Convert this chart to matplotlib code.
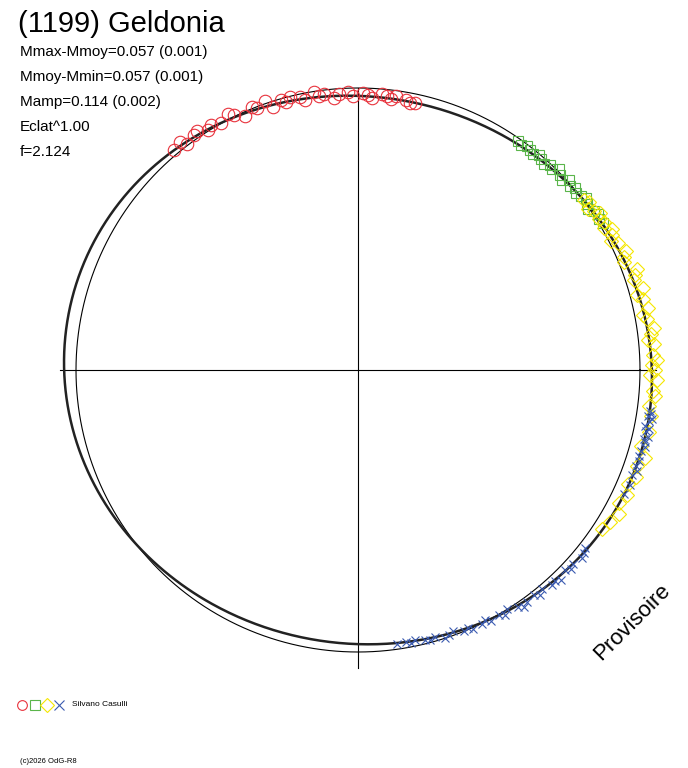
import numpy as np
import matplotlib.pyplot as plt

# phase angles (deg, image frame) and radial scatter (px) for each session
red_ang = [130, 128, 127, 125, 124, 122, 121, 119, 117, 116, 114, 112, 111, 109, 108, 106,
           105, 104, 102, 101, 99, 98, 97, 95, 94, 92, 91, 89, 88, 87, 85, 84, 83, 82, 80, 79, 78]
red_dr = [0, 3, -2, 2, 4, -1, 3, 0, 5, 2, -3, 4, 1, 6, -2, 3, 0, 4, 2, -1, 5, 1, 3, -2, 2,
          4, 0, 3, 1, -1, 4, 2, 0, 3, 1, -1, 0]
grn_ang = [55, 54, 53, 52, 51, 50, 49, 48, 47, 46, 45, 44, 43, 42, 41, 40, 39, 38, 37, 36,
           35, 34, 33, 32, 31]
grn_dr = [3, 1, 4, 2, 0, 3, 1, -1, 2, 0, 4, 1, -2, 3, 0, 2, -1, 1, 3, 0, -2, 1, 2, 0, 1]
yel_ang = [37, 36, 35, 34, 33, 32, 31, 30, 29, 28, 27, 26, 24, 23, 22, 20, 19, 18, 16, 15, 14,
           12, 11, 10, 8, 7, 6, 5, 3, 2, 1, 0, -1, -2, -4, -5, -7, -9, -12, -15, -17, -19,
           -21, -23, -25, -27, -29, -31, -33]
yel_dr = [0, 3, -2, 1, 4, 0, 2, -1, 5, 2, -2, 3, 6, 1, -1, 8, 4, 1, 6, -2, 3, 5, -1, 2, 7, 3,
          -1, 4, 2, 6, 0, 3, -2, 5, 1, 4, -1, 2, 3, -2, 6, 1, 4, -1, 3, 0, 5, 2, -1]
blu_ang = [-8, -8.5, -9, -9.5, -10, -11, -11.5, -12, -13, -13.5, -14, -15, -16, -17, -18, -19,
           -20, -21, -23, -25, -38, -39, -40, -42, -43, -44, -46, -47, -48, -50, -51, -52,
           -54, -55, -56, -58, -59, -60, -62, -63, -64, -66, -67, -68, -70, -71, -72, -74,
           -75, -76, -78, -79, -80, -82]
blu_dr = [0, 2, -1, 3, 1, -2, 2, 0, 3, -1, 1, 2, 0, -1, 1, 0, 2, -1, 1, 0, -2, 1, 3, 0, 2,
          -1, 4, 1, 2, -1, 3, 0, 2, 4, 1, -2, 3, 0, 2, -1, 1, 3, 0, 2, -1, 1, 3, 0, 2, 1, -1,
          2, 0, 1]

CX, CY, R0 = 358, 370, 284
AMP, TILT = 0.038, -12


def model(a):
    return R0 * (1 + AMP * np.cos(np.radians(2 * (a - TILT))))


def to_xy(a, r):
    a = np.radians(a)
    return CX + r * np.cos(a), CY - r * np.sin(a)


fig = plt.figure(figsize=(6.88, 7.68), dpi=100)
ax = fig.add_axes([0, 0, 1, 1])
ax.set_xlim(0, 688)
ax.set_ylim(768, 0)
ax.axis('off')

ax.plot([60, 656], [CY, CY], color='black', lw=0.8)
ax.plot([CX, CX], [88, 668], color='black', lw=0.8)

t = np.linspace(0, 360, 721)
ax.plot(*to_xy(t, np.full_like(t, 282.0)), color='black', lw=0.8)
ax.plot(*to_xy(t, model(t)), color='#222222', lw=1.8)

for ang, dr, col, mk, ms in [(red_ang, red_dr, '#e8323c', 'o', 9),
                             (grn_ang, grn_dr, '#5ab54a', 's', 7),
                             (yel_ang, yel_dr, '#f5e600', 'D', 7),
                             (blu_ang, blu_dr, '#3a5ab0', 'x', 6)]:
    a = np.array(ang, float)
    x, y = to_xy(a, model(a) + np.array(dr))
    ax.plot(x, y, ls='none', marker=mk, ms=ms, mfc='none', mec=col, mew=0.8)

ax.text(18, 32, '(1199) Geldonia', fontsize=21, family='Liberation Sans')
for i, s in enumerate(['Mmax-Mmoy=0.057 (0.001)', 'Mmoy-Mmin=0.057 (0.001)',
                       'Mamp=0.114 (0.002)', 'Eclat^1.00', 'f=2.124']):
    ax.text(20, 56 + 25 * i, s, fontsize=11, family='Liberation Sans')
ax.text(632, 622, 'Provisoire', fontsize=16, rotation=45, ha='center', va='center',
        family='Liberation Sans')

for x, col, mk in [(22, '#e8323c', 'o'), (35, '#5ab54a', 's'), (47, '#f5e600', 'D'), (59, '#3a5ab0', 'x')]:
    ax.plot(x, 705, marker=mk, ms=7, mfc='none', mec=col, mew=0.8)
ax.text(72, 705, 'Silvano Casulli', fontsize=6, va='center', family='Liberation Sans')
ax.text(20, 763, '(c)2026 OdG-R8', fontsize=5.5, family='Liberation Sans')

fig.savefig('out.png')
